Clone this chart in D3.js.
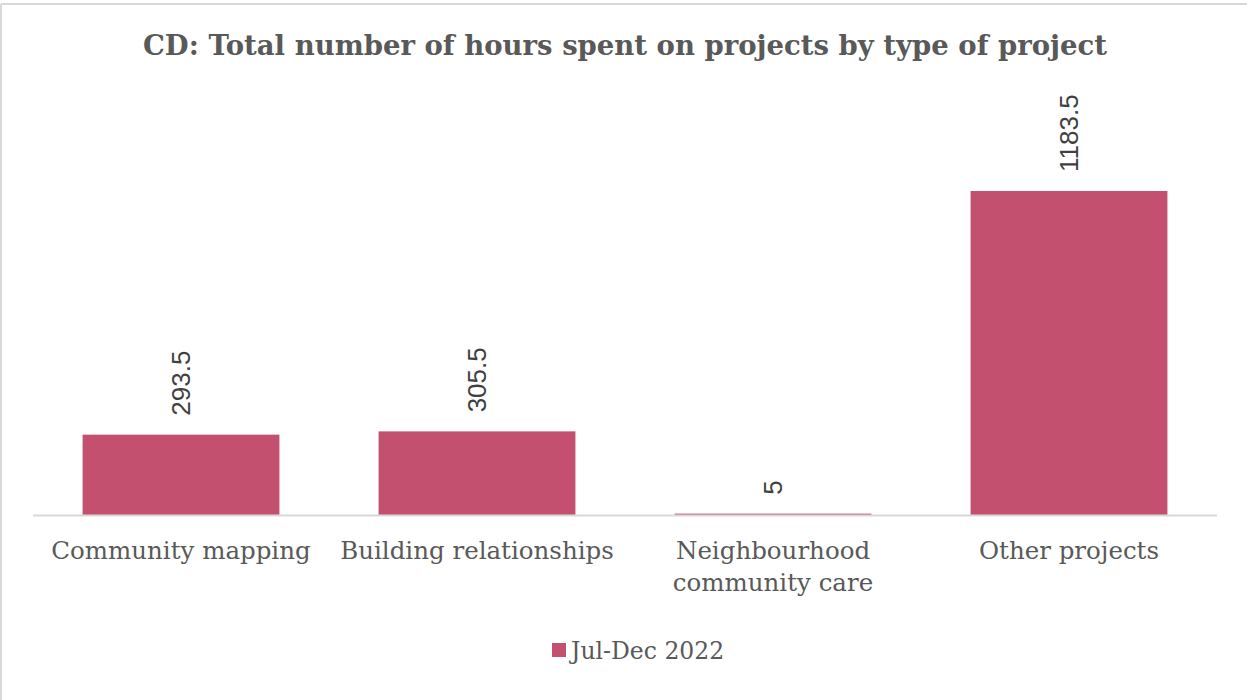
<!DOCTYPE html>
<html>
<head>
<meta charset="utf-8">
<script src="https://cdnjs.cloudflare.com/ajax/libs/d3/7.8.5/d3.min.js"></script>
<style>
  body { margin: 0; background: #fff; }
  svg { display: block; }
</style>
</head>
<body>
<div id="chart"></div>
<script>
const width = 1247;
const height = 700;

// Data
const categories = [
    ["Community mapping"],
    ["Building relationships"],
    ["Neighbourhood", "community care"],
    ["Other projects"]
];
const hours = [293.5, 305.5, 5, 1183.5];
const seriesName = "Jul-Dec 2022";
const title = "CD: Total number of hours spent on projects by type of project";

const barColor = "#c45070";
const textColor = "#595959";
const serif = "'DejaVu Serif', 'Liberation Serif', serif";

const svg = d3.select("#chart").append("svg")
    .attr("width", width)
    .attr("height", height);

// chart frame (only top and left edges visible)
svg.append("line").attr("x1", 1).attr("x2", width).attr("y1", 4).attr("y2", 4)
    .attr("stroke", "#d9d9d9").attr("stroke-width", 2);
svg.append("line").attr("x1", 1).attr("x2", 1).attr("y1", 4).attr("y2", height)
    .attr("stroke", "#d9d9d9").attr("stroke-width", 2);

const baseY = 515;

const x = d3.scaleBand()
    .domain(d3.range(hours.length))
    .range([33, 1217])
    .paddingInner(0.335)
    .paddingOuter(0.1675);

// 1183.5 maps to y=191
const y = d3.scaleLinear()
    .domain([0, 1183.5])
    .range([baseY, 191]);

// Title
svg.append("text")
    .attr("x", 625)
    .attr("y", 55)
    .attr("text-anchor", "middle")
    .attr("font-family", serif)
    .attr("font-weight", "bold")
    .attr("font-size", 27.5)
    .attr("fill", textColor)
    .text(title);

// Bars
svg.selectAll(".bar")
    .data(hours)
    .enter().append("rect")
    .attr("class", "bar")
    .attr("x", (d, i) => x(i))
    .attr("y", d => y(d))
    .attr("width", x.bandwidth())
    .attr("height", d => baseY - y(d))
    .attr("fill", barColor);

// Axis line
svg.append("line")
    .attr("x1", 33).attr("x2", 1217)
    .attr("y1", baseY + 0.5).attr("y2", baseY + 0.5)
    .attr("stroke", "#d9d9d9")
    .attr("stroke-width", 2);

// Value labels, rotated
svg.selectAll(".val")
    .data(hours)
    .enter().append("text")
    .attr("class", "val")
    .attr("transform", (d, i) => `translate(${x(i) + x.bandwidth() / 2 + 9},${y(d) - 19}) rotate(-90)`)
    .attr("text-anchor", "start")
    .attr("font-family", "'Liberation Sans', Arial, sans-serif")
    .attr("font-size", 26)
    .attr("fill", "#404040")
    .text(d => d);

// Category labels
const cat = svg.selectAll(".cat")
    .data(categories)
    .enter().append("text")
    .attr("class", "cat")
    .attr("x", (d, i) => x(i) + x.bandwidth() / 2)
    .attr("y", 559)
    .attr("text-anchor", "middle")
    .attr("font-family", serif)
    .attr("font-size", 24.5)
    .attr("fill", textColor);

cat.selectAll("tspan")
    .data(d => d)
    .enter().append("tspan")
    .attr("x", function() { return d3.select(this.parentNode).attr("x"); })
    .attr("dy", (d, i) => i === 0 ? 0 : 32)
    .text(d => d);

// Legend
const legend = svg.append("g").attr("transform", "translate(552,643)");
legend.append("rect")
    .attr("width", 14).attr("height", 14)
    .attr("fill", barColor);
legend.append("text")
    .attr("x", 19)
    .attr("y", 16)
    .attr("font-family", serif)
    .attr("font-size", 23.5)
    .attr("fill", textColor)
    .text(seriesName);
</script>
</body>
</html>
